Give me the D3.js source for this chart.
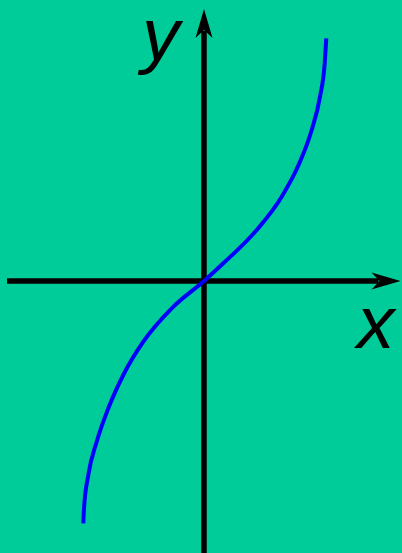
<!DOCTYPE html>
<html>
<head>
<meta charset="utf-8">
<script src="https://cdn.jsdelivr.net/npm/d3@7"></script>
<style>
  html, body { margin: 0; padding: 0; background: #00cc99; }
  svg { display: block; }
</style>
</head>
<body>
<div id="chart"></div>
<script>
// curve points (x, y in axis units)
let curveX = [-1.207, -1.2, -1.157, -1.073, -0.957, -0.807, -0.607, -0.323, 0, 0.193, 0.527, 0.777, 0.953, 1.077, 1.16, 1.207, 1.223];
let curveY = [-2.423, -2.273, -1.94, -1.607, -1.273, -0.94, -0.607, -0.273, 0, 0.177, 0.51, 0.843, 1.177, 1.51, 1.843, 2.177, 2.427];

// axis extents and labels
let xAxisRange = [-1.97, 1.965];
let yAxisRange = [-2.75, 2.72];
let axisLabels = ["x", "y"];

let width = 402, height = 553;

let svg = d3.select("#chart").append("svg")
    .attr("width", width)
    .attr("height", height);

svg.append("rect")
    .attr("width", width)
    .attr("height", height)
    .style("fill", "#00cc99");

let x = d3.scaleLinear().domain([0, 1]).range([204, 304]);
let y = d3.scaleLinear().domain([0, 1]).range([281, 181]);

// arrow head, tip at 0,0 pointing right
let head = "M0,0 L-29,-8.5 L-21,0 L-29,8.5 Z";

// x axis
svg.append("line")
    .attr("x1", x(xAxisRange[0]))
    .attr("x2", x(xAxisRange[1]) - 22)
    .attr("y1", y(0))
    .attr("y2", y(0))
    .style("stroke", "black")
    .style("stroke-width", 5.5);

svg.append("path")
    .attr("d", head)
    .attr("transform", "translate(" + x(xAxisRange[1]) + "," + y(0) + ")")
    .style("fill", "black");

// y axis
svg.append("line")
    .attr("x1", x(0))
    .attr("x2", x(0))
    .attr("y1", y(yAxisRange[0]))
    .attr("y2", y(yAxisRange[1]) + 22)
    .style("stroke", "black")
    .style("stroke-width", 5.5);

svg.append("path")
    .attr("d", head)
    .attr("transform", "translate(" + x(0) + "," + y(yAxisRange[1]) + ") rotate(-90)")
    .style("fill", "black");

// the curve
let line = d3.line()
    .x(function (d) { return x(d[0]); })
    .y(function (d) { return y(d[1]); })
    .curve(d3.curveMonotoneX);

svg.append("path")
    .datum(d3.zip(curveX, curveY))
    .attr("d", line)
    .style("fill", "none")
    .style("stroke", "#0000ff")
    .style("stroke-width", 4);

// labels
svg.append("text")
    .attr("x", x(1.53))
    .attr("y", y(-0.67))
    .text(axisLabels[0])
    .style("font-family", "'Liberation Sans', Arial, sans-serif")
    .style("font-style", "italic")
    .style("font-size", "75px")
    .style("fill", "black");

svg.append("text")
    .attr("x", x(-0.62))
    .attr("y", y(2.21))
    .text(axisLabels[1])
    .style("font-family", "'Liberation Sans', Arial, sans-serif")
    .style("font-style", "italic")
    .style("font-size", "75px")
    .style("fill", "black");
</script>
</body>
</html>
